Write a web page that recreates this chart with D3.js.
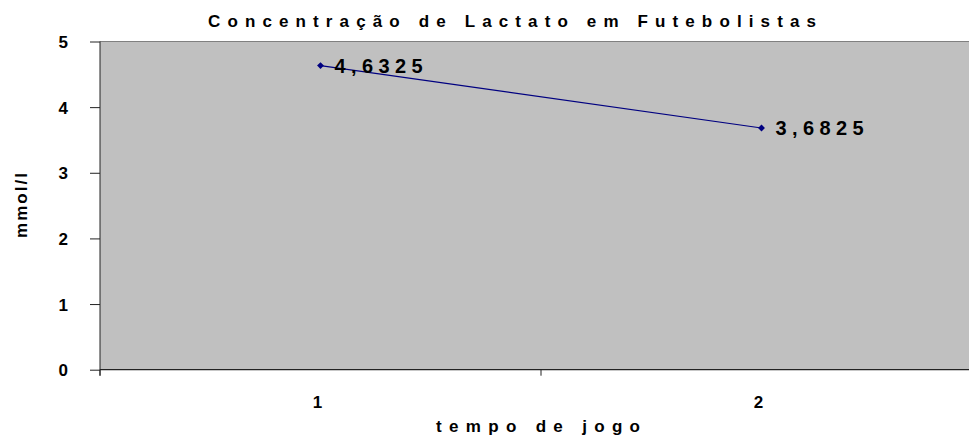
<!DOCTYPE html>
<html><head><meta charset="utf-8">
<script src="https://cdn.jsdelivr.net/npm/d3@7"></script>
<style>
body{margin:0;background:#fff;}
text{font-family:"Liberation Sans",Arial,sans-serif;font-weight:bold;fill:#000;}
</style></head>
<body><svg id="c" width="969" height="445"></svg>
<script>
const categories = ["1", "2"];
const values = [4.6325, 3.6825];
const valueLabels = ["4,6325", "3,6825"];
const yTicks = [0, 1, 2, 3, 4, 5];
const title = "Concentração de Lactato em Futebolistas";
const xTitle = "tempo de jogo";
const yTitle = "mmol/l";

const svg = d3.select("#c");
const pLeft = 100, pTop = 41.5, pBottom = 369.7, bandW = 441;
const x = d3.scaleBand().domain(categories).range([pLeft, pLeft + bandW * categories.length]).padding(0);
const y = d3.scaleLinear().domain([0, 5]).range([pBottom, pTop]);

// plot area
svg.append("rect").attr("x", pLeft).attr("y", pTop)
  .attr("width", x.range()[1] - pLeft).attr("height", pBottom - pTop)
  .attr("fill", "#C0C0C0");
svg.append("line").attr("x1", pLeft).attr("x2", x.range()[1]).attr("y1", pTop).attr("y2", pTop)
  .attr("stroke", "#808080").attr("stroke-width", 1);

// y axis
const yAxis = svg.append("g").attr("transform", `translate(${pLeft},0)`)
  .call(d3.axisLeft(y).tickValues(yTicks).tickSize(10).tickPadding(22).tickFormat(d3.format("d")));
yAxis.select(".domain").remove();
yAxis.selectAll("line").attr("stroke", "#222");
yAxis.selectAll("text").style("font-size", "17px").style("font-family", "Liberation Sans, Arial, sans-serif").style("font-weight", "bold").attr("dy", "0.36em");
svg.append("line").attr("x1", pLeft).attr("x2", pLeft).attr("y1", pTop).attr("y2", pBottom + 6)
  .attr("stroke", "#222");

// x axis
svg.append("line").attr("x1", pLeft).attr("x2", x.range()[1]).attr("y1", pBottom).attr("y2", pBottom)
  .attr("stroke", "#222").attr("stroke-width", 1.2);
const bounds = categories.map(c => x(c)).concat([x.range()[1]]);
svg.selectAll(".xb").data(bounds).join("line")
  .attr("x1", d => d).attr("x2", d => d).attr("y1", pBottom).attr("y2", pBottom + 6)
  .attr("stroke", "#222");
const xAxis = svg.append("g").attr("transform", `translate(0,${pBottom})`)
  .call(d3.axisBottom(x).tickSize(0).tickPadding(0));
xAxis.select(".domain").remove();
xAxis.selectAll("text").attr("y", 38.5).attr("dy", 0).attr("dx", -3)
  .style("font-size", "17px").style("font-family", "Liberation Sans, Arial, sans-serif").style("font-weight", "bold");

// line + markers
const cx = c => x(c) + x.bandwidth() / 2;
const pts = categories.map((c, i) => [cx(c), y(values[i])]);
svg.append("path").attr("d", d3.line()(pts)).attr("fill", "none").attr("stroke", "#000080").attr("stroke-width", 1.2);
svg.selectAll(".m").data(pts).join("path")
  .attr("transform", d => `translate(${d[0]},${d[1]})`)
  .attr("d", d3.symbol().type(d3.symbolDiamond2).size(30))
  .attr("fill", "#000080");
svg.selectAll(".lbl").data(categories).join("text")
  .attr("x", (c) => cx(c) + 14).attr("y", (c, i) => y(values[i]) + 7.5)
  .attr("textLength", 88).attr("lengthAdjust", "spacing")
  .style("font-size", "20px")
  .text((c, i) => valueLabels[i]);

// titles
svg.append("text").attr("x", 208).attr("y", 27).attr("textLength", 608).attr("lengthAdjust", "spacing")
  .style("font-size", "17px").text(title);
svg.append("text").attr("x", 436).attr("y", 432).attr("textLength", 204).attr("lengthAdjust", "spacing")
  .style("font-size", "17px").text(xTitle);
svg.append("text").attr("transform", "translate(27,238) rotate(-90)")
  .attr("textLength", 65).attr("lengthAdjust", "spacing")
  .style("font-size", "17px").text(yTitle);
</script></body></html>
